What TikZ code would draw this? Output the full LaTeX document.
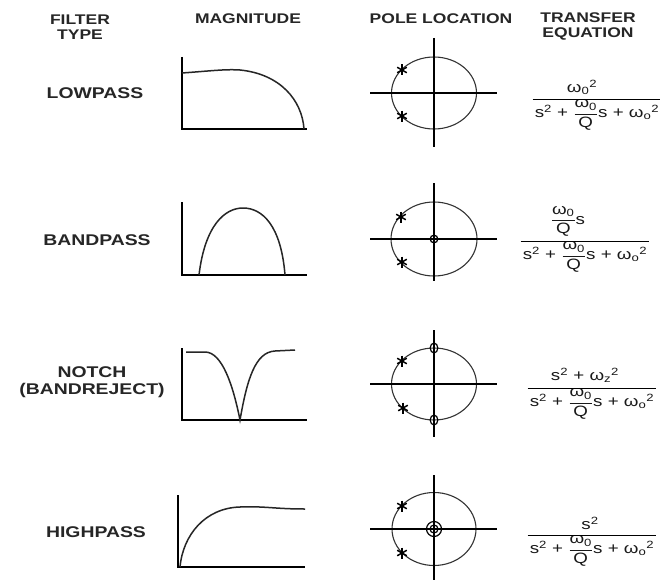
\documentclass[tikz,border=0pt]{standalone}
\usepackage{fontspec}
\usepackage{amsmath}
\setmainfont{Liberation Sans}[FakeStretch=1.25]
\newcommand{\astk}[2]{\foreach \a in {30,90,150}{\draw[line width=1.5pt] (#1,#2) ++(\a:5.5pt) -- ++(\a+180:11pt);}}
\newcommand{\wsq}[1]{ω$_{\text{#1}}$$^{\text{2}}$}
\newcommand{\denom}{s$^{\text{2}}$ + $\dfrac{\text{ω}_{\text{0}}}{\text{Q}}$s + \wsq{o}}
\begin{document}
\begin{tikzpicture}[x=1pt,y=-1pt,
  hdr/.style={font=\bfseries\fontsize{14}{15}\selectfont, align=center, inner sep=0, text=black!85},
  lbl/.style={font=\bfseries\fontsize{15.5}{17}\selectfont, align=center, inner sep=0, text=black!85},
  eq/.style={font=\fontsize{15}{17}\selectfont, inner sep=0, text=black!90},
  bar/.style={line width=1.2pt},
  axis/.style={line width=2.2pt},
  ell/.style={line width=1.1pt, draw=black!80},
  max/.style={line width=2pt},
  curve/.style={line width=1.5pt, draw=black!85}]
\fill[white] (0,0) rectangle (660,583);
\useasboundingbox (0,0) rectangle (660,583);

% headers
\node[hdr] (hType) at (80,27) {FILTER\\TYPE};
\node[hdr] (hMag) at (248,19) {MAGNITUDE};
\node[hdr] (hPole) at (441,19) {POLE LOCATION};
\node[hdr] (hEq) at (588,26) {TRANSFER\\EQUATION};

% row labels
\node[lbl] (lLow) at (95,93) {LOWPASS};
\node[lbl] (lBand) at (97,240) {BANDPASS};
\node[lbl] (lNotch) at (92,382) {NOTCH\\(BANDREJECT)};
\node[lbl] (lHigh) at (96,532) {HIGHPASS};

% magnitude plots
\draw[max] (182,57) -- (182,129) -- (307,129);
\draw[curve] (182,73) .. controls (210,71) and (225,69) .. (240,70) .. controls (280,74) and (302,100) .. (304,129);

\draw[max] (182,202) -- (182,275) -- (307,275);
\draw[curve] (199,275) .. controls (205,225) and (225,208) .. (243,208) .. controls (262,208) and (281,225) .. (285,275);

\draw[max] (182,348) -- (182,420) -- (307,420);
\draw[curve] (186,352) -- (205,352) .. controls (222,352) and (233,385) .. (240,420) .. controls (247,380) and (255,352) .. (275,351) -- (295,350);

\draw[max] (178,495) -- (178,567) -- (305,567);
\draw[curve] (180,567) .. controls (183,535) and (205,508) .. (240,507) .. controls (265,506) and (275,509) .. (305,509);

% pole plots
\draw[ell] (434,93) ellipse [x radius=42.5pt, y radius=36pt];
\draw[axis] (370,93) -- (497,93);
\draw[axis] (434,38) -- (434,147);
\astk{402}{70}\astk{402}{116}

\draw[ell] (434,239) ellipse [x radius=43pt, y radius=37pt];
\draw[axis] (370,239) -- (497,239);
\draw[axis] (434,183) -- (434,281);
\draw[line width=1.3pt] (434,239) circle [radius=3.8pt];
\astk{401}{217}\astk{402}{262}

\draw[ell] (434,384) ellipse [x radius=42.5pt, y radius=36pt];
\draw[axis] (370,384) -- (497,384);
\draw[axis] (434,330) -- (434,437);
\draw[line width=1.2pt] (434,348) ellipse [x radius=3.8pt, y radius=5pt];
\draw[line width=1.2pt] (434,420) ellipse [x radius=3.8pt, y radius=5pt];
\astk{402}{361}\astk{403}{408}

\draw[ell] (434,529) ellipse [x radius=42pt, y radius=36.5pt];
\draw[axis] (370,529) -- (497,529);
\draw[axis] (434,475) -- (434,580);
\draw[line width=1.2pt] (434,529) circle [radius=4pt];
\draw[line width=1.2pt] (434,529) circle [radius=7.5pt];
\astk{402}{506}\astk{402}{553}

% transfer equations
\node[eq, anchor=north] (d1) at (597,99.5) {\denom};
\draw[bar] ([xshift=-2pt]d1.north west) -- ([xshift=2pt]d1.north east);
\node[eq, anchor=south] (n1) at (582,95) {\wsq{0}};

\node[eq, anchor=north] (d2) at (585,241.5) {\denom};
\draw[bar] ([xshift=-2pt]d2.north west) -- ([xshift=2pt]d2.north east);
\node[eq, anchor=south] (n2) at (568,237) {$\dfrac{\text{ω}_{\text{0}}}{\text{Q}}$s};

\node[eq, anchor=north] (d3) at (592,388.5) {\denom};
\draw[bar] ([xshift=-2pt]d3.north west) -- ([xshift=2pt]d3.north east);
\node[eq, anchor=south] (n3) at (585,383) {s$^{\text{2}}$ + \wsq{z}};

\node[eq, anchor=north] (d4) at (592,535.5) {\denom};
\draw[bar] ([xshift=-2pt]d4.north west) -- ([xshift=2pt]d4.north east);
\node[eq, anchor=south] (n4) at (590,530) {s$^{\text{2}}$};
\end{tikzpicture}
\end{document}
